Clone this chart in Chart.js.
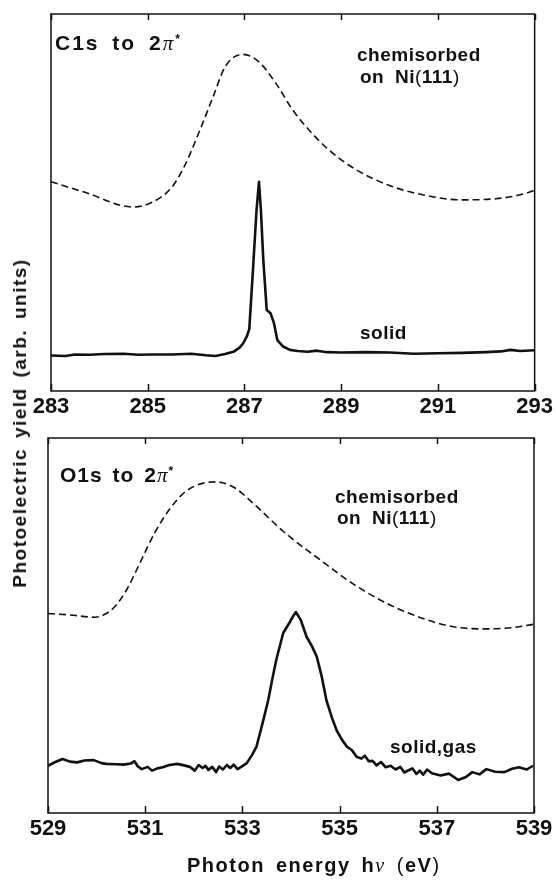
<!DOCTYPE html>
<html>
<head>
<meta charset="utf-8">
<script src="https://cdn.jsdelivr.net/npm/chart.js@4.4.1/dist/chart.umd.min.js"></script>
<style>
  body { margin: 0; background: #fff; }
  #wrap { position: relative; width: 556px; height: 880px; overflow: hidden;
          font-family: 'Liberation Sans', Arial, sans-serif; font-weight: bold; color: #111; }
  canvas { position: absolute; left: 0; }
  .lbl { position: absolute; white-space: nowrap; transform: translateY(-50%); }
  .pi { font-family: 'Liberation Serif', serif; font-style: italic; font-weight: normal; }
  .star { font-size: 12px; vertical-align: 7px; }
  .par { font-weight: normal; }
</style>
</head>
<body>
<div id="wrap">
  <canvas id="c1sChart" width="556" height="440" style="top:0"></canvas>
  <canvas id="o1sChart" width="556" height="460" style="top:420px"></canvas>

  <div class="lbl" style="left:55px; top:43px; font-size:21px; letter-spacing:2px; word-spacing:5px">C1s to 2<span class="pi">π</span><span class="star">*</span></div>
  <div class="lbl" style="left:357px; top:55px; font-size:19px; letter-spacing:0.5px">chemisorbed</div>
  <div class="lbl" style="left:360px; top:77px; font-size:19px; letter-spacing:0.5px; word-spacing:5px">on Ni<span class="par">(</span>111<span class="par">)</span></div>
  <div class="lbl" style="left:360px; top:333px; font-size:19px; letter-spacing:0.5px">solid</div>

  <div class="lbl" style="left:60px; top:475px; font-size:21px; letter-spacing:1px; word-spacing:3px">O1s to 2<span class="pi">π</span><span class="star">*</span></div>
  <div class="lbl" style="left:335px; top:497px; font-size:19px; letter-spacing:0.5px">chemisorbed</div>
  <div class="lbl" style="left:337px; top:518px; font-size:19px; letter-spacing:0.5px; word-spacing:5px">on Ni<span class="par">(</span>111<span class="par">)</span></div>
  <div class="lbl" style="left:390px; top:747px; font-size:19px; letter-spacing:0.5px">solid,gas</div>

  <div class="lbl" style="left:187px; top:865px; font-size:20px; letter-spacing:1.5px; word-spacing:4px">Photon energy h<span class="pi">ν</span> <span class="par">(</span>eV<span class="par">)</span></div>
  <div style="position:absolute; left:20px; top:423px; transform:translate(-50%,-50%) rotate(-90deg); white-space:nowrap; font-size:19px; letter-spacing:1.5px; word-spacing:3px">Photoelectric yield (arb. units)</div>
</div>

<script>
// C1s panel
const c1sTicks = [283, 285, 287, 289, 291, 293];
const c1sChemE = [283.0, 283.7, 284.7, 285.1, 285.5, 285.75, 286.05, 286.35, 286.6, 286.96, 287.3, 287.65, 288.0, 288.4, 288.76, 289.27, 290.0, 290.74, 291.47, 292.2, 292.65, 293.0];
const c1sChemY = [55.5, 52.7, 48.8, 50.1, 54.1, 59.4, 68.3, 78.0, 86.0, 89.3, 87.3, 81.6, 74.5, 68.3, 63.8, 59.0, 54.5, 51.9, 50.7, 51.0, 51.9, 53.2];
const c1sSolidE = [283.0, 283.3, 283.5, 283.8, 284.1, 284.5, 284.8, 285.1, 285.5, 285.9, 286.2, 286.4, 286.6, 286.77, 286.9, 286.97, 287.05, 287.1, 287.18, 287.25, 287.3, 287.34, 287.39, 287.46, 287.54, 287.61, 287.68, 287.8, 287.94, 288.1, 288.3, 288.5, 288.7, 289.0, 289.5, 290.0, 290.5, 291.0, 291.5, 292.0, 292.3, 292.5, 292.7, 293.0];
const c1sSolidY = [9.4, 9.3, 9.7, 9.6, 9.8, 9.9, 9.6, 9.7, 9.7, 9.9, 9.5, 9.3, 9.8, 10.4, 11.5, 12.6, 14.5, 16.5, 33.0, 48.0, 55.5, 48.0, 34.7, 21.5, 20.6, 18.0, 13.5, 11.8, 10.9, 10.6, 10.4, 10.7, 10.3, 10.2, 10.3, 10.2, 9.9, 10.0, 10.1, 10.3, 10.5, 10.9, 10.6, 10.8];

// O1s panel
const o1sTicks = [529, 531, 533, 535, 537, 539];
const o1sChemE = [529.0, 529.46, 529.97, 530.2, 530.4, 530.63, 530.9, 531.2, 531.5, 531.8, 532.1, 532.46, 532.83, 533.27, 533.85, 534.6, 535.3, 536.05, 536.8, 537.37, 537.95, 538.54, 538.98];
const o1sChemY = [53.2, 52.8, 52.2, 53.2, 55.4, 59.8, 66.9, 74.8, 81.0, 85.4, 87.6, 88.3, 86.8, 82.0, 75.0, 67.5, 60.9, 55.4, 51.5, 49.6, 49.1, 49.4, 50.3];
const o1sSolidE = [529.0, 529.15, 529.3, 529.45, 529.6, 529.75, 529.94, 530.1, 530.2, 530.4, 530.56, 530.7, 530.78, 530.85, 530.93, 531.05, 531.14, 531.25, 531.36, 531.5, 531.66, 531.8, 531.92, 532.02, 532.1, 532.18, 532.24, 532.3, 532.38, 532.46, 532.52, 532.6, 532.68, 532.75, 532.82, 532.9, 533.0, 533.09, 533.2, 533.29, 533.41, 533.53, 533.62, 533.7, 533.84, 533.98, 534.04, 534.1, 534.2, 534.32, 534.43, 534.53, 534.63, 534.73, 534.84, 534.94, 535.05, 535.15, 535.25, 535.35, 535.45, 535.52, 535.6, 535.68, 535.76, 535.85, 535.95, 536.05, 536.15, 536.25, 536.33, 536.42, 536.5, 536.58, 536.65, 536.72, 536.8, 536.9, 537.08, 537.25, 537.44, 537.6, 537.73, 537.88, 538.02, 538.2, 538.39, 538.55, 538.69, 538.85, 538.98];
const o1sSolidY = [12.6, 13.6, 14.4, 13.7, 13.5, 14.0, 14.1, 13.3, 13.1, 13.0, 12.9, 13.2, 13.8, 12.4, 11.7, 12.3, 11.3, 11.9, 12.2, 12.8, 13.1, 12.7, 12.3, 11.3, 12.8, 12.0, 12.6, 11.5, 12.3, 10.9, 12.4, 11.6, 12.8, 12.0, 12.9, 11.7, 12.5, 13.3, 15.5, 17.7, 23.7, 30.0, 36.0, 41.0, 48.0, 51.0, 52.4, 53.6, 51.5, 47.0, 44.5, 41.7, 36.5, 30.0, 25.5, 22.0, 19.5, 17.7, 16.8, 15.0, 14.5, 15.3, 13.8, 13.9, 12.7, 13.6, 12.2, 12.6, 11.6, 12.3, 10.8, 11.4, 11.9, 10.4, 11.3, 10.2, 11.6, 10.6, 10.0, 10.5, 8.8, 9.6, 10.9, 10.3, 11.7, 11.0, 10.9, 11.8, 12.2, 11.6, 12.6];

const ink = '#111';

function pairs(xs, ys) {
    return xs.map((x, i) => ({ x: x, y: ys[i] }));
}

// frame and inward ticks, top and bottom
const framePlugin = {
    id: 'frame',
    afterDraw(chart) {
        const { ctx, chartArea: a, scales: { x } } = chart;
        ctx.save();
        ctx.strokeStyle = ink;
        ctx.lineWidth = 1.5;
        ctx.strokeRect(a.left, a.top, a.right - a.left, a.bottom - a.top);
        ctx.beginPath();
        x.ticks.forEach(t => {
            const px = Math.round(x.getPixelForValue(t.value)) + 0.5;
            ctx.moveTo(px, a.bottom);
            ctx.lineTo(px, a.bottom - 7);
            ctx.moveTo(px, a.top);
            ctx.lineTo(px, a.top + 6);
        });
        ctx.stroke();
        ctx.restore();
    }
};

function makePanel(canvasId, ticks, chemE, chemY, solidE, solidY, pad) {
    new Chart(document.getElementById(canvasId), {
        type: 'line',
        data: {
            datasets: [{
                label: 'chemisorbed',
                data: pairs(chemE, chemY),
                borderColor: ink,
                borderWidth: 1.6,
                borderDash: [7, 4],
                pointRadius: 0,
                tension: 0.4,
                cubicInterpolationMode: 'monotone'
            }, {
                label: 'solid',
                data: pairs(solidE, solidY),
                borderColor: ink,
                borderWidth: 2.6,
                borderJoinStyle: 'round',
                pointRadius: 0,
                tension: 0
            }]
        },
        options: {
            responsive: false,
            animation: false,
            layout: { padding: pad },
            plugins: { legend: { display: false }, tooltip: { enabled: false } },
            scales: {
                x: {
                    type: 'linear',
                    min: ticks[0],
                    max: ticks[ticks.length - 1],
                    grid: { display: false, drawTicks: false },
                    border: { display: false },
                    afterBuildTicks: s => { s.ticks = ticks.map(v => ({ value: v })); },
                    afterFit: s => { s.height = 40; },
                    ticks: {
                        padding: 3,
                        maxRotation: 0,
                        autoSkip: false,
                        color: ink,
                        font: { family: "'Liberation Sans', Arial, sans-serif", size: 22, weight: 'bold' }
                    }
                },
                y: { display: false, min: 0, max: 100 }
            }
        },
        plugins: [framePlugin]
    });
}

makePanel('c1sChart', c1sTicks, c1sChemE, c1sChemY, c1sSolidE, c1sSolidY,
    { left: 51, right: 21, top: 14, bottom: 9 });
makePanel('o1sChart', o1sTicks, o1sChemE, o1sChemY, o1sSolidE, o1sSolidY,
    { left: 48, right: 22, top: 18, bottom: 27 });
</script>
</body>
</html>
